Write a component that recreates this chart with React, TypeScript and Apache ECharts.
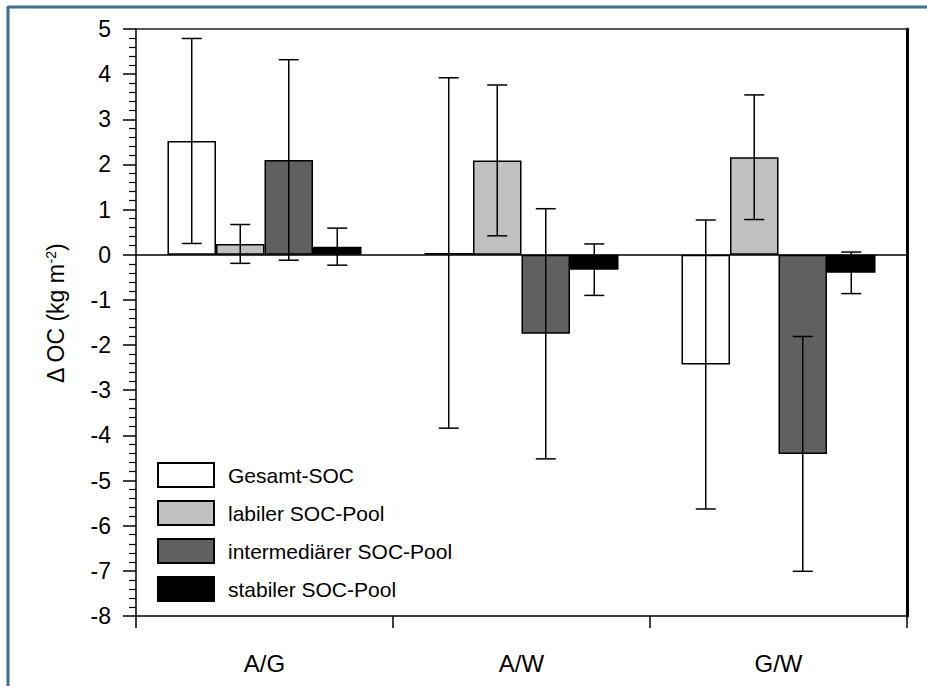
import React, { useEffect, useRef } from "react";
import * as echarts from "echarts";

const categories = ["A/G", "A/W", "G/W"];
const seriesNames = ["Gesamt-SOC", "labiler SOC-Pool", "intermediärer SOC-Pool", "stabiler SOC-Pool"];
const gesamt = [2.52, 0.04, -2.43];
const gesamtErr = [2.27, 3.88, 3.2];
const labil = [0.24, 2.09, 2.16];
const labilErr = [0.43, 1.67, 1.38];
const inter = [2.1, -1.75, -4.41];
const interErr = [2.22, 2.77, 2.6];
const stabil = [0.18, -0.33, -0.4];
const stabilErr = [0.41, 0.57, 0.46];
const yTicks = { min: -8, max: 5, interval: 1 };

const colors = ["#ffffff", "#c0c0c0", "#606060", "#000000"];
const FONT = "Liberation Sans, Arial, sans-serif";
const BAR_FRACTION = 0.755;

export default function App() {
  const ref = useRef<HTMLDivElement>(null);
  useEffect(() => {
    if (!ref.current) return;
    const chart = echarts.init(ref.current, null, { renderer: "svg" });
    const values = [gesamt, labil, inter, stabil];
    const errs = [gesamtErr, labilErr, interErr, stabilErr];

    const errData: number[][] = [];
    values.forEach((vals, s) => {
      vals.forEach((v, c) => {
        errData.push([c, v, errs[s][c], s]);
      });
    });

    const barSeries = values.map((vals, s) => ({
      name: seriesNames[s],
      type: "bar",
      data: vals,
      barGap: "0%",
      barCategoryGap: `${(1 - BAR_FRACTION) * 100}%`,
      itemStyle: { color: colors[s], borderColor: "#000", borderWidth: 1.5 },
      silent: true,
      z: 2,
      ...(s === 0
        ? {
            markLine: {
              silent: true,
              symbol: "none",
              label: { show: false },
              lineStyle: { color: "#000", width: 1.5, type: "solid" },
              data: [{ yAxis: 0 }],
              z: 5,
            },
          }
        : {}),
    }));

    const option = {
      animation: false,
      backgroundColor: "#fff",
      textStyle: { fontFamily: FONT },
      graphic: [
        { type: "line", shape: { x1: 8, y1: 7, x2: 927, y2: 7 }, style: { stroke: "#41708c", lineWidth: 3 } },
        { type: "line", shape: { x1: 8, y1: 6, x2: 8, y2: 686 }, style: { stroke: "#41708c", lineWidth: 3 } },
      ],
      grid: { left: 136, right: 20, top: 29, bottom: 70 },
      legend: {
        data: seriesNames,
        orient: "vertical",
        left: 157,
        top: 462,
        padding: 0,
        itemWidth: 56,
        itemHeight: 24,
        itemGap: 12,
        icon: "rect",
        selectedMode: false,
        textStyle: { fontSize: 21, color: "#000", fontFamily: FONT, padding: [0, 0, 0, 9] },
      },
      xAxis: [
        {
          type: "category",
          data: categories,
          position: "bottom",
          boundaryGap: true,
          axisLine: { onZero: false, lineStyle: { color: "#000", width: 1.5 } },
          axisTick: { show: true, length: 12, lineStyle: { color: "#000", width: 1.5 } },
          axisLabel: { fontSize: 24, color: "#000", margin: 35, fontFamily: FONT },
          splitLine: { show: false },
        },
        {
          type: "category",
          data: categories,
          position: "top",
          axisLine: { onZero: false, lineStyle: { color: "#222", width: 1.5 } },
          axisTick: { show: false },
          axisLabel: { show: false },
          splitLine: { show: false },
        },
      ],
      yAxis: [
        {
          type: "value",
          min: yTicks.min,
          max: yTicks.max,
          interval: yTicks.interval,
          name: "{a|Δ OC (kg m}{s|-2}{a|)}",
          nameLocation: "middle",
          nameGap: 68,
          nameRotate: 90,
          nameTextStyle: {
            padding: [0, 0, 0, 18],
            rich: {
              a: { fontSize: 23, color: "#000", fontFamily: FONT },
              s: { fontSize: 14, color: "#000", fontFamily: FONT, verticalAlign: "top", padding: [0, 0, 10, 0] },
            },
          },
          axisLine: { show: true, lineStyle: { color: "#000", width: 1.5 } },
          axisTick: { show: true, length: 13, inside: false, lineStyle: { color: "#000", width: 1.5 } },
          minorTick: { show: true, splitNumber: 5, length: 7, lineStyle: { color: "#000", width: 1.2 } },
          axisLabel: { fontSize: 23, color: "#000", margin: 25, fontFamily: FONT },
          splitLine: { show: false },
        },
        {
          type: "value",
          min: yTicks.min,
          max: yTicks.max,
          interval: yTicks.interval,
          position: "right",
          axisLine: { show: true, lineStyle: { color: "#000", width: 3 } },
          axisTick: { show: false },
          axisLabel: { show: false },
          splitLine: { show: false },
        },
      ],
      series: [
        ...barSeries,
        {
          name: "err",
          type: "custom",
          silent: true,
          z: 10,
          data: errData,
          encode: { x: 0, y: 1 },
          renderItem: (params: any, api: any) => {
            const c = api.value(0);
            const mean = api.value(1);
            const err = api.value(2);
            const s = api.value(3);
            const band = api.size([1, 0])[0];
            const barW = (band * BAR_FRACTION) / 4;
            const cx = api.coord([c, 0])[0] + (s - 1.5) * barW;
            const yTop = api.coord([c, mean + err])[1];
            const yBot = api.coord([c, mean - err])[1];
            const half = 10;
            const style = { stroke: "#000", lineWidth: 1.5 };
            return {
              type: "group",
              children: [
                { type: "line", shape: { x1: cx, y1: yTop, x2: cx, y2: yBot }, style },
                { type: "line", shape: { x1: cx - half, y1: yTop, x2: cx + half, y2: yTop }, style },
                { type: "line", shape: { x1: cx - half, y1: yBot, x2: cx + half, y2: yBot }, style },
              ],
            };
          },
        },
      ],
    };
    chart.setOption(option as any);
    return () => chart.dispose();
  }, []);
  return (
    <div
      ref={ref}
      style={{ position: "fixed", left: 0, top: 0, width: 927, height: 686, background: "#fff" }}
    />
  );
}
